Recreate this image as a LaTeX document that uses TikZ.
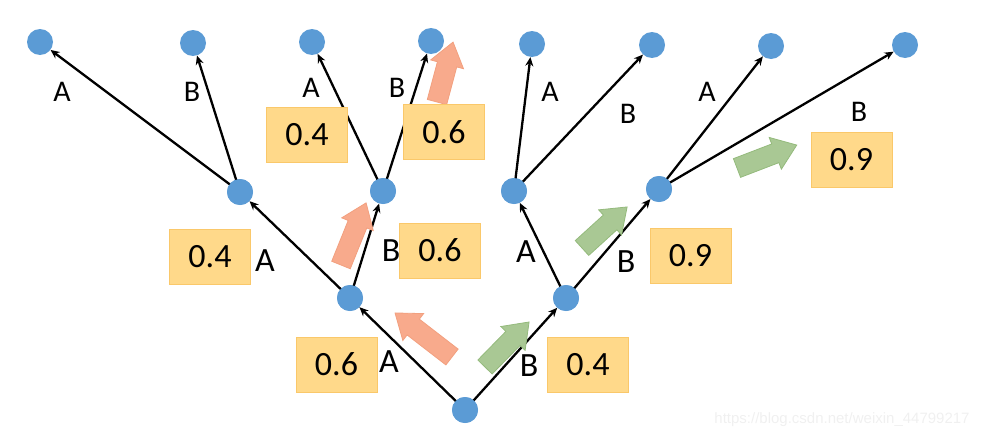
\documentclass[tikz,border=0pt]{standalone}
\usepackage{fontspec}
\setmainfont{Carlito}
\newfontfamily\wmfont{Liberation Sans}
\usetikzlibrary{arrows.meta}
\definecolor{nodeblue}{HTML}{5B9BD5}
\definecolor{boxfill}{HTML}{FFD98A}
\definecolor{boxline}{HTML}{FAC86A}
\definecolor{orfill}{HTML}{F8AA8C}
\definecolor{orline}{HTML}{F2A07F}
\definecolor{grfill}{HTML}{A9C894}
\definecolor{grline}{HTML}{94BA7C}
\tikzset{
  dot/.style={circle, fill=nodeblue, minimum size=26pt, inner sep=0pt},
  probbox/.style={draw=boxline, fill=boxfill, line width=1pt, minimum width=81pt, minimum height=55pt, inner sep=0pt, font=\fontsize{34}{36}\selectfont},
  lbl/.style={inner sep=0pt, font=\fontsize{34}{36}\selectfont},
  toplbl/.style={inner sep=0pt, font=\fontsize{30}{32}\selectfont},
  edge/.style={line width=2.3pt, -{Stealth[length=9pt,width=8pt]}},
  orarrow/.style={fill=orfill, draw=orline, line width=0.8pt},
  grarrow/.style={fill=grfill, draw=grline, line width=0.8pt}
}
\newcommand\fatarrow[5]{%
  \begin{scope}[shift={(#2,#3)}, rotate=#4]
    \draw[#1] (0,-10) -- ({#5-23},-10) -- ({#5-23},-17) -- (#5,0) -- ({#5-23},17) -- ({#5-23},10) -- (0,10) -- cycle;
  \end{scope}}
\begin{document}
\begin{tikzpicture}[x=1pt,y=1pt]
\useasboundingbox (0,0) rectangle (988,-439);
% watermark
\node[inner sep=0pt, text=black!6, font=\wmfont\fontsize{15}{17}\selectfont] (wm) at (842,-420) {https://blog.csdn.net/weixin\_44799217};
% nodes
\node[dot] (r) at (465,-410) {};
\node[dot] (a) at (350,-298) {};
\node[dot] (b) at (566,-298) {};
\node[dot] (aa) at (240,-192) {};
\node[dot] (ab) at (383,-191) {};
\node[dot] (ba) at (514,-191) {};
\node[dot] (bb) at (659,-189) {};
\node[dot] (aaa) at (40,-42) {};
\node[dot] (aab) at (193,-43) {};
\node[dot] (aba) at (312,-42) {};
\node[dot] (abb) at (431,-41) {};
\node[dot] (baa) at (532,-44) {};
\node[dot] (bab) at (652,-45) {};
\node[dot] (bba) at (771,-46) {};
\node[dot] (bbb) at (905,-45) {};
% edges
\draw[edge] (r.center) -- (a);
\draw[edge] (r.center) -- (b);
\draw[edge] (a.center) -- (aa);
\draw[edge] (a.center) -- (ab);
\draw[edge] (b.center) -- (ba);
\draw[edge] (b.center) -- (bb);
\draw[edge] (aa.center) -- (aaa);
\draw[edge] (aa.center) -- (aab);
\draw[edge] (ab.center) -- (aba);
\draw[edge] (ab.center) -- (abb);
\draw[edge] (ba.center) -- (baa);
\draw[edge] (ba.center) -- (bab);
\draw[edge] (bb.center) -- (bba);
\draw[edge] (bb.center) -- (bbb);
% redraw dots on top
\foreach \n in {r,a,b,aa,ab,ba,bb}{\fill[nodeblue] (\n) circle (13pt);}
% fat arrows
\fatarrow{orarrow}{452}{-357}{142.3}{72}
\fatarrow{orarrow}{341}{-265}{68}{67}
\fatarrow{orarrow}{437}{-102}{75}{62}
\fatarrow{grarrow}{485}{-367}{45.6}{63}
\fatarrow{grarrow}{582}{-248}{42.3}{61}
\fatarrow{grarrow}{737}{-168}{21}{64}
% boxes
\node[probbox] (p1) at (336.5,-364.5) {0.6};
\node[probbox] (p2) at (588,-364.5) {0.4};
\node[probbox] (p3) at (210,-257) {0.4};
\node[probbox] (p4) at (440,-250.5) {0.6};
\node[probbox] (p5) at (690.5,-256) {0.9};
\node[probbox] (p6) at (307,-135) {0.4};
\node[probbox] (p7) at (444,-132) {0.6};
\node[probbox] (p8) at (851.5,-160) {0.9};
% labels
\node[lbl] (l1) at (389,-362) {A};
\node[lbl] (l2) at (529,-366) {B};
\node[lbl] (l3) at (265,-261) {A};
\node[lbl] (l4) at (391,-251) {B};
\node[lbl] (l5) at (526,-252) {A};
\node[lbl] (l6) at (626,-262) {B};
\node[toplbl] (t1) at (62,-92) {A};
\node[toplbl] (t2) at (192,-92) {B};
\node[toplbl] (t3) at (311,-88) {A};
\node[toplbl] (t4) at (397,-88) {B};
\node[toplbl] (t5) at (550,-92) {A};
\node[toplbl] (t6) at (628,-114) {B};
\node[toplbl] (t7) at (707,-92) {A};
\node[toplbl] (t8) at (859,-112) {B};
\end{tikzpicture}
\end{document}
